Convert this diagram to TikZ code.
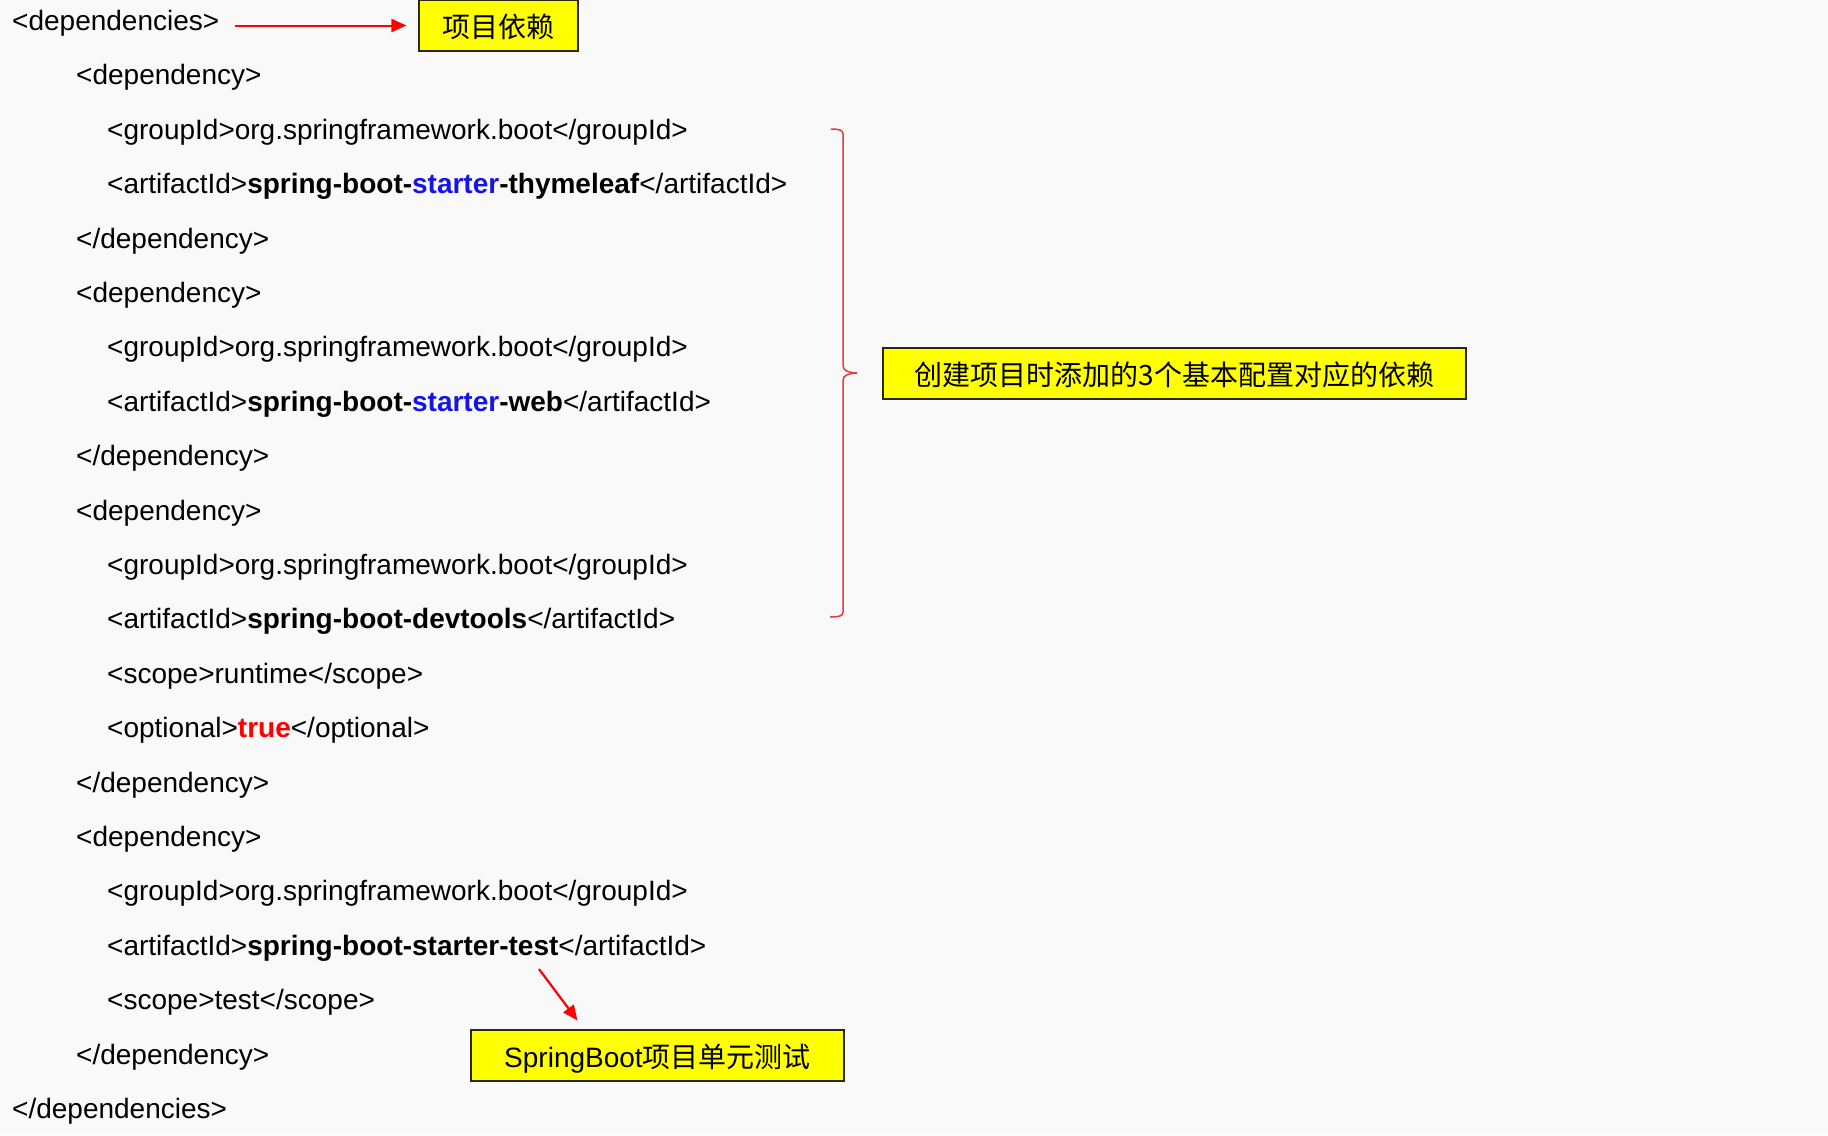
\documentclass[tikz,border=0pt]{standalone}
\usepackage{fontspec}
\setmainfont{Liberation Sans}
\newfontfamily\cjk{Noto Sans CJK SC}
\usetikzlibrary{arrows.meta,calc}
\definecolor{bgc}{RGB}{249,249,249}
\definecolor{kwblue}{RGB}{20,20,230}
\definecolor{kwred}{RGB}{255,0,0}
\definecolor{boxyellow}{RGB}{255,255,0}
\definecolor{boxline}{RGB}{40,40,20}
\definecolor{bracered}{RGB}{228,60,60}
\begin{document}
\begin{tikzpicture}[x=1pt,y=-1pt,
  code/.style={anchor=base west, inner sep=0pt, font=\fontsize{28}{34}\selectfont},
  note/.style={draw=boxline, line width=1.2pt, fill=boxyellow, inner sep=0pt,
    text height=26pt, text depth=3pt,
    minimum height=51pt, font=\fontsize{28}{34}\selectfont},
  ptr/.style={draw=kwred, line width=2pt, -{Triangle[length=15pt,width=13pt]}},
  bracestroke/.style={draw=bracered, line width=1.5pt}
]
\fill[bgc] (0,0) rectangle (1828,1135);
\useasboundingbox (0,0) rectangle (1828,1135);

% code lines
\node[code] (l0)  at (12,30.5)        {<dependencies>};
\node[code] (l1)  at (76,84.9)        {<dependency>};
\node[code] (l2)  at (107,139.3)      {<groupId>org.springframework.boot</groupId>};
\node[code] (l3)  at (107,193.7)      {<artifactId>\textbf{spring-boot-\textcolor{kwblue}{starter}-thymeleaf}</artifactId>};
\node[code] (l4)  at (76,248.1)       {</dependency>};
\node[code] (l5)  at (76,302.5)       {<dependency>};
\node[code] (l6)  at (107,356.9)      {<groupId>org.springframework.boot</groupId>};
\node[code] (l7)  at (107,411.3)      {<artifactId>\textbf{spring-boot-\textcolor{kwblue}{starter}-web}</artifactId>};
\node[code] (l8)  at (76,465.7)       {</dependency>};
\node[code] (l9)  at (76,520.1)       {<dependency>};
\node[code] (l10) at (107,574.5)      {<groupId>org.springframework.boot</groupId>};
\node[code] (l11) at (107,628.9)      {<artifactId>\textbf{spring-boot-devtools}</artifactId>};
\node[code] (l12) at (107,683.3)      {<scope>runtime</scope>};
\node[code] (l13) at (107,737.7)      {<optional>\textbf{\textcolor{kwred}{true}}</optional>};
\node[code] (l14) at (76,792.1)       {</dependency>};
\node[code] (l15) at (76,846.5)       {<dependency>};
\node[code] (l16) at (107,900.9)      {<groupId>org.springframework.boot</groupId>};
\node[code] (l17) at (107,955.3)      {<artifactId>\textbf{spring-boot-starter-test}</artifactId>};
\node[code] (l18) at (107,1009.7)     {<scope>test</scope>};
\node[code] (l19) at (76,1064.1)      {</dependency>};
\node[code] (l20) at (12,1118.5)      {</dependencies>};

% note boxes
\node[note, minimum width=159pt] (topbox) at (498.5,25.5) {\cjk 项目依赖};
\node[note, minimum width=583pt] (midbox) at (1174.5,373.5) {\cjk 创建项目时添加的3个基本配置对应的依赖};
\node[note, minimum width=373pt] (botbox) at (657.5,1055.5) {SpringBoot{\cjk 项目单元测试}};

% arrows
\coordinate (a1) at (235,25.5);
\draw[ptr] (a1) -- ([xshift=-12pt]topbox.west);
\coordinate (b1) at (539,969);
\coordinate (b2) at ($(botbox.north west)+(107,-9)$);
\draw[ptr, line width=2.2pt] (b1) -- (b2);

% brace
\draw[bracestroke] (831,129) .. controls (839,129) and (843,130) .. (843,134)
  -- (843,366) .. controls (843,371) and (850,373) .. (857,373)
  .. controls (850,373) and (843,375) .. (843,380)
  -- (843,612) .. controls (843,616) and (839,617) .. (830,617);
\end{tikzpicture}
\end{document}
